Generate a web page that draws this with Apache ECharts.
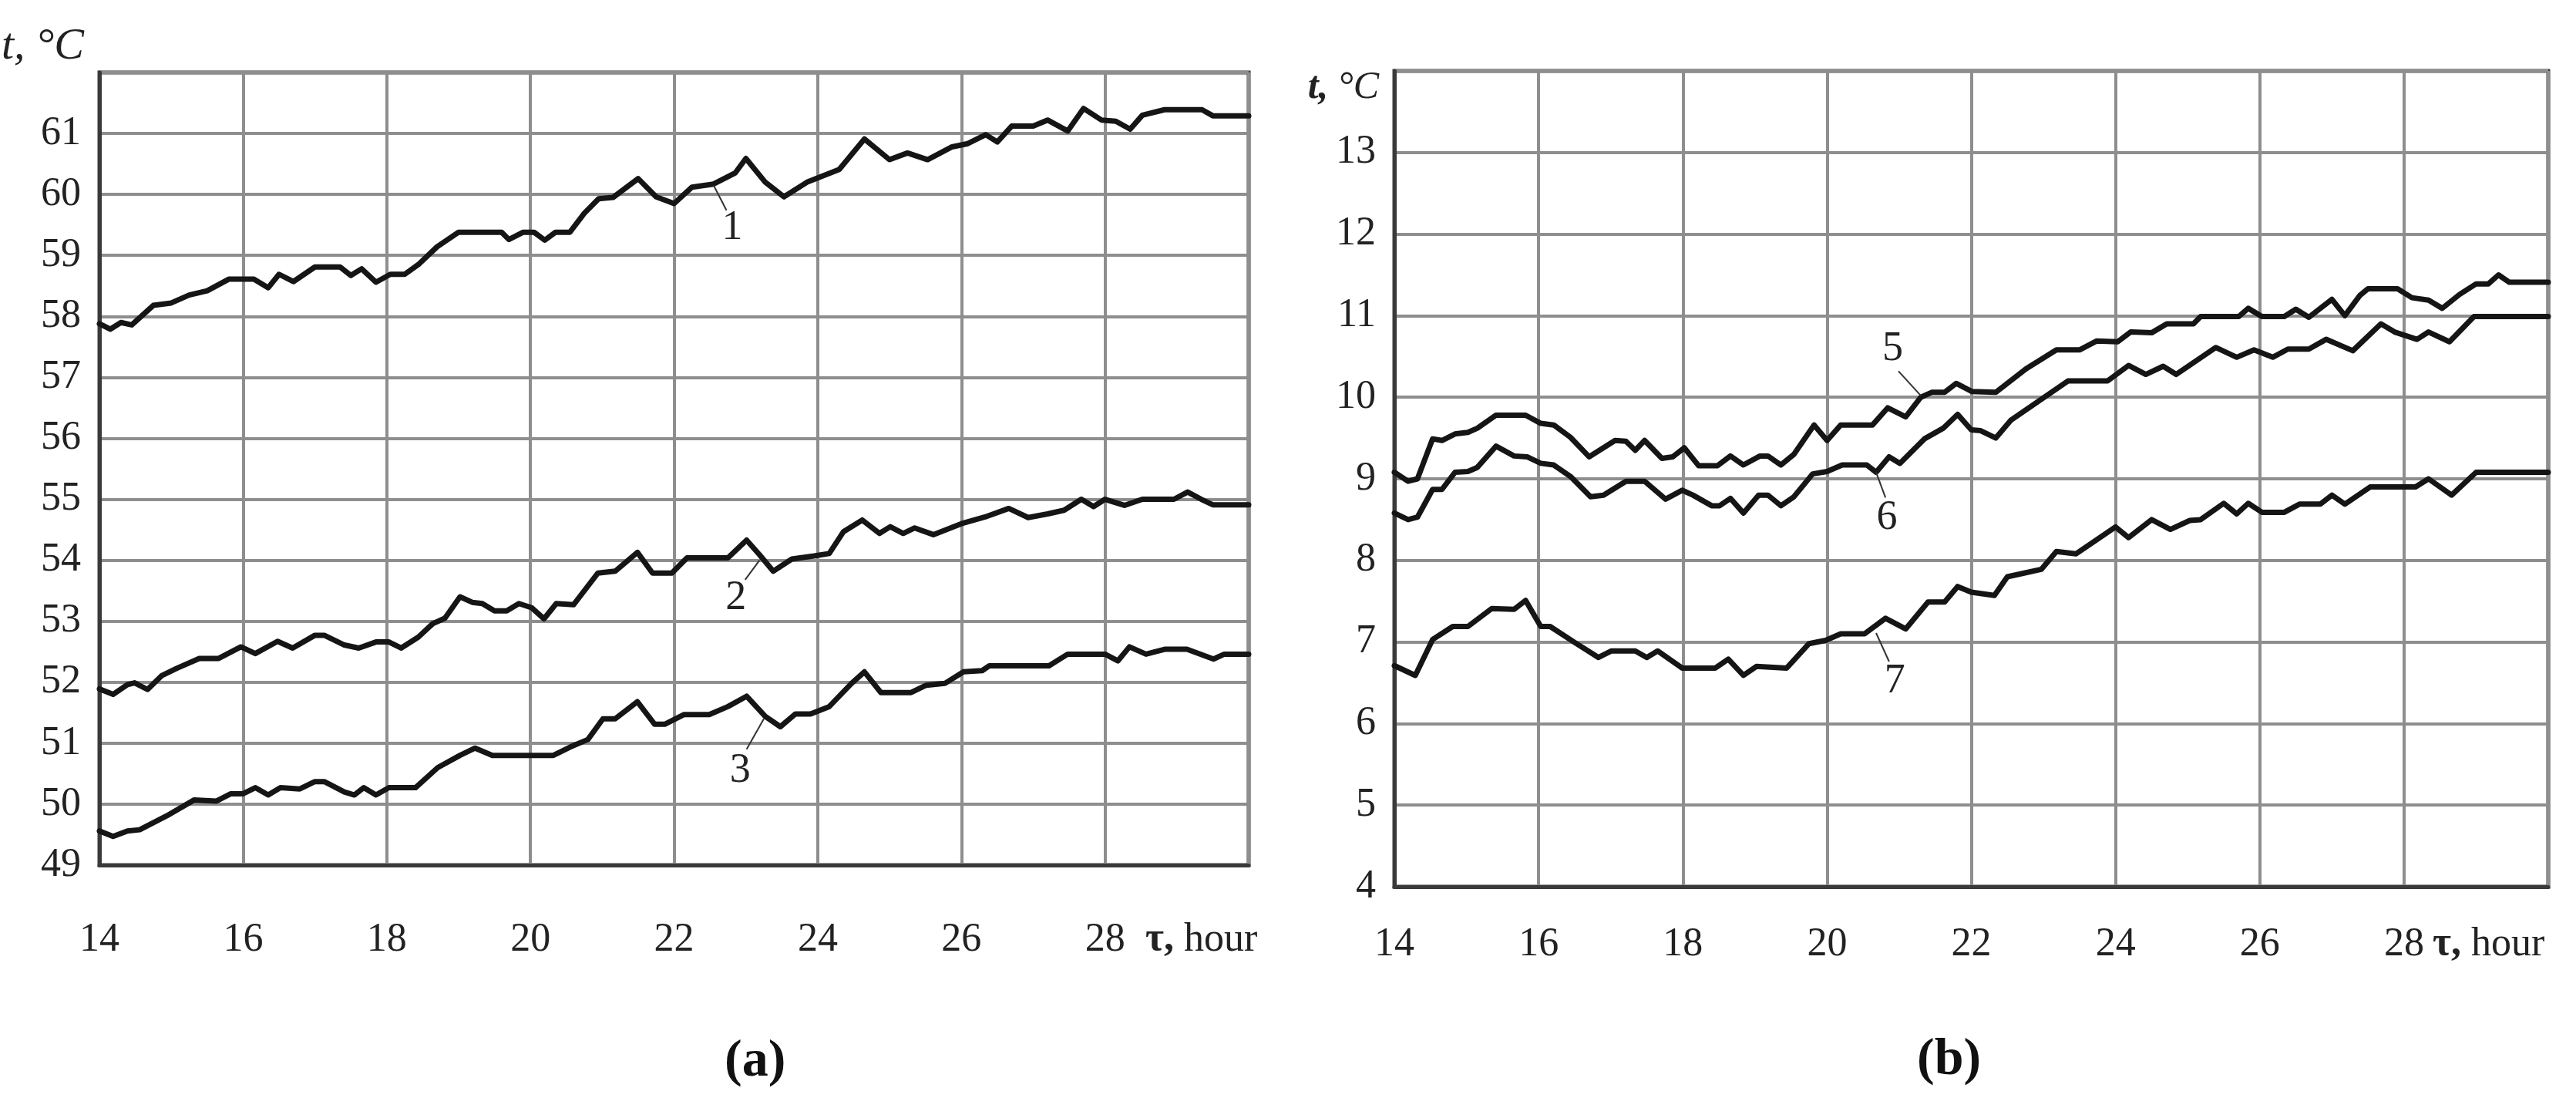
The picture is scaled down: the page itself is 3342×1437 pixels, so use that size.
<!DOCTYPE html>
<html>
<head>
<meta charset="utf-8">
<style>
  html, body { margin: 0; padding: 0; background: #fff; }
  #chart { width: 3342px; height: 1437px; }
</style>
<script src="https://cdn.jsdelivr.net/npm/echarts@6/dist/echarts.min.js"></script>
</head>
<body>
<div id="chart"></div>
<script>
// time axis, hours
const hourRange = [14, 30];
// panel (a): temperatures, deg C
const tempRangeA = [49, 62];
const curve1 = [[14.0,57.88],[14.15,57.79],[14.3,57.9],[14.45,57.86],[14.75,58.18],[15.0,58.22],[15.25,58.35],[15.5,58.42],[15.8,58.61],[16.15,58.61],[16.35,58.47],[16.5,58.69],[16.7,58.57],[17.0,58.81],[17.35,58.81],[17.5,58.67],[17.65,58.78],[17.85,58.56],[18.05,58.69],[18.25,58.69],[18.45,58.86],[18.7,59.14],[19.0,59.38],[19.6,59.38],[19.7,59.26],[19.9,59.38],[20.05,59.38],[20.2,59.25],[20.35,59.38],[20.55,59.38],[20.75,59.69],[20.95,59.93],[21.15,59.95],[21.5,60.26],[21.75,59.96],[22.0,59.85],[22.25,60.12],[22.55,60.17],[22.85,60.35],[23.0,60.59],[23.27,60.2],[23.53,59.96],[23.85,60.2],[24.3,60.41],[24.65,60.91],[25.0,60.57],[25.25,60.68],[25.53,60.57],[25.87,60.78],[26.08,60.83],[26.34,60.98],[26.5,60.86],[26.7,61.12],[27.0,61.12],[27.2,61.22],[27.48,61.04],[27.7,61.41],[27.95,61.22],[28.15,61.2],[28.35,61.07],[28.52,61.3],[28.83,61.39],[29.35,61.39],[29.5,61.29],[30.0,61.29]];
const curve2 = [[14.0,51.89],[14.19,51.8],[14.39,51.96],[14.49,51.99],[14.67,51.88],[14.87,52.11],[15.08,52.23],[15.39,52.39],[15.66,52.39],[15.97,52.58],[16.17,52.47],[16.48,52.67],[16.69,52.56],[17.0,52.77],[17.13,52.77],[17.41,52.61],[17.61,52.56],[17.85,52.66],[18.03,52.66],[18.2,52.56],[18.44,52.74],[18.64,52.96],[18.81,53.05],[19.02,53.4],[19.19,53.31],[19.33,53.29],[19.5,53.17],[19.67,53.17],[19.84,53.29],[20.02,53.22],[20.19,53.04],[20.36,53.29],[20.6,53.27],[20.94,53.79],[21.18,53.82],[21.49,54.13],[21.7,53.79],[21.97,53.79],[22.18,54.04],[22.75,54.04],[23.01,54.33],[23.19,54.09],[23.38,53.82],[23.64,54.02],[23.95,54.07],[24.16,54.11],[24.36,54.47],[24.62,54.66],[24.86,54.44],[25.01,54.55],[25.19,54.44],[25.35,54.53],[25.61,54.42],[26.0,54.6],[26.33,54.71],[26.66,54.85],[26.93,54.7],[27.2,54.76],[27.43,54.82],[27.67,55.0],[27.84,54.88],[28.0,55.0],[28.27,54.9],[28.52,55.0],[28.96,55.0],[29.15,55.12],[29.34,55.0],[29.5,54.91],[30.0,54.91]];
const curve3 = [[14.0,49.56],[14.19,49.47],[14.39,49.56],[14.56,49.58],[14.94,49.81],[15.32,50.07],[15.63,50.05],[15.83,50.17],[16.0,50.17],[16.17,50.27],[16.35,50.15],[16.52,50.27],[16.79,50.25],[17.0,50.37],[17.13,50.37],[17.41,50.2],[17.55,50.15],[17.68,50.27],[17.85,50.15],[18.03,50.27],[18.4,50.27],[18.71,50.6],[19.02,50.8],[19.23,50.92],[19.47,50.8],[20.32,50.8],[20.56,50.94],[20.8,51.06],[21.01,51.4],[21.18,51.4],[21.49,51.68],[21.73,51.31],[21.87,51.31],[22.14,51.47],[22.49,51.47],[22.75,51.6],[23.01,51.77],[23.27,51.44],[23.48,51.27],[23.69,51.48],[23.9,51.48],[24.16,51.6],[24.47,51.98],[24.65,52.17],[24.88,51.83],[25.3,51.83],[25.51,51.95],[25.77,51.98],[26.03,52.17],[26.29,52.19],[26.39,52.27],[27.22,52.27],[27.48,52.46],[28.0,52.46],[28.18,52.35],[28.34,52.58],[28.57,52.46],[28.83,52.54],[29.14,52.54],[29.51,52.38],[29.66,52.46],[30.0,52.46]];
// panel (b)
const tempRangeB = [4, 14];
const curve5 = [[14.0,9.08],[14.19,8.97],[14.32,9.0],[14.53,9.49],[14.66,9.47],[14.84,9.55],[15.02,9.57],[15.15,9.62],[15.41,9.78],[15.82,9.78],[16.03,9.68],[16.21,9.66],[16.44,9.51],[16.7,9.27],[17.06,9.47],[17.21,9.46],[17.34,9.35],[17.47,9.47],[17.71,9.25],[17.86,9.27],[18.02,9.38],[18.22,9.16],[18.48,9.16],[18.66,9.28],[18.84,9.17],[19.07,9.28],[19.18,9.28],[19.36,9.17],[19.54,9.3],[19.82,9.66],[20.0,9.47],[20.19,9.66],[20.63,9.66],[20.84,9.87],[21.09,9.76],[21.3,10.0],[21.45,10.06],[21.63,10.06],[21.79,10.17],[22.01,10.07],[22.34,10.06],[22.76,10.35],[23.18,10.58],[23.5,10.58],[23.74,10.69],[24.03,10.68],[24.21,10.8],[24.5,10.79],[24.71,10.9],[25.08,10.9],[25.18,10.99],[25.71,10.99],[25.84,11.09],[26.03,10.99],[26.34,10.99],[26.5,11.08],[26.68,10.98],[27.0,11.2],[27.18,11.0],[27.39,11.25],[27.5,11.33],[27.91,11.33],[28.11,11.22],[28.34,11.19],[28.53,11.09],[28.77,11.26],[29.0,11.39],[29.17,11.39],[29.31,11.5],[29.46,11.41],[30.0,11.41]];
const curve6 = [[14.0,8.58],[14.19,8.5],[14.32,8.53],[14.53,8.87],[14.66,8.87],[14.84,9.08],[15.02,9.09],[15.15,9.14],[15.41,9.4],[15.66,9.28],[15.84,9.27],[16.03,9.19],[16.21,9.17],[16.44,9.03],[16.72,8.78],[16.9,8.8],[17.21,8.97],[17.47,8.97],[17.76,8.75],[17.99,8.86],[18.14,8.8],[18.4,8.67],[18.51,8.67],[18.66,8.76],[18.84,8.58],[19.05,8.8],[19.18,8.8],[19.36,8.67],[19.54,8.78],[19.8,9.06],[20.0,9.09],[20.21,9.17],[20.55,9.17],[20.68,9.08],[20.86,9.27],[21.01,9.19],[21.35,9.49],[21.61,9.62],[21.81,9.79],[22.0,9.6],[22.13,9.59],[22.34,9.5],[22.55,9.72],[23.34,10.2],[23.89,10.2],[24.18,10.39],[24.42,10.28],[24.66,10.38],[24.84,10.28],[25.39,10.61],[25.68,10.49],[25.92,10.58],[26.18,10.49],[26.39,10.59],[26.68,10.59],[26.92,10.71],[27.29,10.57],[27.68,10.9],[27.87,10.8],[28.18,10.71],[28.34,10.8],[28.63,10.68],[28.97,10.99],[30.0,10.99]];
const curve7 = [[14.0,6.71],[14.29,6.59],[14.53,7.03],[14.81,7.19],[15.02,7.19],[15.35,7.41],[15.66,7.4],[15.82,7.51],[16.03,7.19],[16.16,7.19],[16.49,7.0],[16.83,6.81],[17.01,6.89],[17.34,6.89],[17.5,6.81],[17.65,6.89],[17.99,6.68],[18.45,6.68],[18.63,6.79],[18.84,6.59],[19.02,6.7],[19.44,6.68],[19.75,6.98],[19.98,7.02],[20.19,7.1],[20.52,7.1],[20.81,7.29],[21.09,7.16],[21.4,7.49],[21.63,7.49],[21.81,7.68],[22.0,7.61],[22.32,7.57],[22.5,7.8],[22.66,7.83],[22.97,7.89],[23.18,8.11],[23.45,8.08],[24.0,8.41],[24.18,8.28],[24.5,8.5],[24.76,8.38],[25.03,8.49],[25.18,8.5],[25.5,8.7],[25.68,8.57],[25.84,8.7],[26.03,8.59],[26.34,8.59],[26.55,8.69],[26.84,8.69],[27.0,8.8],[27.18,8.69],[27.53,8.9],[28.16,8.9],[28.34,9.0],[28.66,8.8],[29.0,9.08],[30.0,9.08]];

// curve number tags: leader line from -> to, number at "at" (data coords)
const tags = {
  '1': { from: [22.55, 60.15], to: [22.73, 59.74], at: [22.81, 59.45] },
  '2': { from: [23.19, 54.0], to: [22.99, 53.68], at: [22.86, 53.38] },
  '3': { from: [23.25, 51.4], to: [23.01, 50.9], at: [22.92, 50.55] },
  '5': { from: [21.3, 10.02], to: [20.99, 10.32], at: [20.91, 10.59] },
  '6': { from: [20.68, 9.08], to: [20.81, 8.77], at: [20.83, 8.52] },
  '7': { from: [20.68, 7.11], to: [20.86, 6.76], at: [20.94, 6.52] }
};

const FONT = "'Liberation Serif', 'Times New Roman', serif";
const INK = '#151515';

const chart = echarts.init(document.getElementById('chart'));

function xAxisFor(gridIndex, labelMargin, nameGap) {
  return {
    type: 'value', gridIndex, min: hourRange[0], max: hourRange[1], interval: 2,
    axisLine: { show: true, onZero: false, lineStyle: { color: '#3a3a3a', width: 5 } },
    axisTick: { show: false },
    splitLine: { show: true, lineStyle: { color: '#8e8e8e', width: 4 } },
    axisLabel: { showMaxLabel: false, margin: labelMargin, fontSize: 52, color: '#222', fontFamily: FONT },
    name: '{b|τ,} hour',
    nameLocation: 'end',
    nameGap: nameGap,
    nameTextStyle: {
      align: 'left', verticalAlign: 'top', padding: [labelMargin, 0, 0, 0],
      fontSize: 52, color: '#222', fontFamily: FONT,
      rich: { b: { fontSize: 52, fontWeight: 'bold', color: '#222', fontFamily: FONT } }
    }
  };
}

function yAxisFor(gridIndex, range, labelPad, nameOpts) {
  return {
    type: 'value', gridIndex, min: range[0], max: range[1], interval: 1,
    axisLine: { show: true, onZero: false, lineStyle: { color: '#3a3a3a', width: 5 } },
    axisTick: { show: false },
    splitLine: { show: true, lineStyle: { color: '#8e8e8e', width: 4 } },
    axisLabel: { showMaxLabel: false, margin: 24, fontSize: 52, color: '#222', fontFamily: FONT, padding: labelPad },
    name: nameOpts.text,
    nameLocation: 'end',
    nameGap: nameOpts.gap,
    nameTextStyle: {
      align: 'right', verticalAlign: nameOpts.valign, padding: [0, 20, 0, 0],
      fontSize: nameOpts.size, fontStyle: 'italic', color: '#222', fontFamily: FONT,
      rich: { t: { fontSize: nameOpts.size, fontStyle: 'italic', fontWeight: nameOpts.weight, color: '#222', fontFamily: FONT } }
    }
  };
}

function curveSeries(name, data, axisIndex) {
  const tag = tags[name];
  return {
    name: name, type: 'line', data: data,
    xAxisIndex: axisIndex, yAxisIndex: axisIndex,
    showSymbol: false, symbol: 'none', silent: true, z: 3,
    lineStyle: { color: INK, width: 7, join: 'round', cap: 'round' },
    markLine: {
      silent: true, symbol: ['none', 'none'], animation: false,
      label: { show: false },
      lineStyle: { color: '#333', width: 2, type: 'solid' },
      data: [[{ coord: tag.from }, { coord: tag.to }]]
    },
    markPoint: {
      silent: true, symbol: 'rect', symbolSize: 1, animation: false,
      itemStyle: { color: 'rgba(0,0,0,0)' },
      label: { show: true, position: 'inside', formatter: '{b}', fontSize: 54, color: '#222', fontFamily: FONT },
      data: [{ name: name, coord: tag.at }]
    }
  };
}

chart.setOption({
  animation: false,
  backgroundColor: '#fff',
  title: [
    { text: '(a)', left: 935, top: 1338, textStyle: { fontSize: 68, fontWeight: 'bold', color: '#111', fontFamily: FONT } },
    { text: '(b)', left: 2482, top: 1336, textStyle: { fontSize: 68, fontWeight: 'bold', color: '#111', fontFamily: FONT } }
  ],
  grid: [
    { left: 129, top: 94, width: 1491, height: 1028, show: true, borderColor: '#3a3a3a', borderWidth: 5 },
    { left: 1809, top: 92, width: 1497, height: 1058, show: true, borderColor: '#3a3a3a', borderWidth: 5 }
  ],
  xAxis: [
    xAxisFor(0, 71, -134),
    xAxisFor(1, 49, -150)
  ],
  yAxis: [
    yAxisFor(0, tempRangeA, [0, 0, 38, 0], { text: '{t|t,} °C', gap: 4, valign: 'bottom', size: 58, weight: 'normal' }),
    yAxisFor(1, tempRangeB, [0, 0, 6, 0], { text: '{t|t,} °C', gap: -22, valign: 'middle', size: 50, weight: 'bold' })
  ],
  series: [
    curveSeries('1', curve1, 0),
    curveSeries('2', curve2, 0),
    curveSeries('3', curve3, 0),
    curveSeries('5', curve5, 1),
    curveSeries('6', curve6, 1),
    curveSeries('7', curve7, 1)
  ]
});
</script>
</body>
</html>
